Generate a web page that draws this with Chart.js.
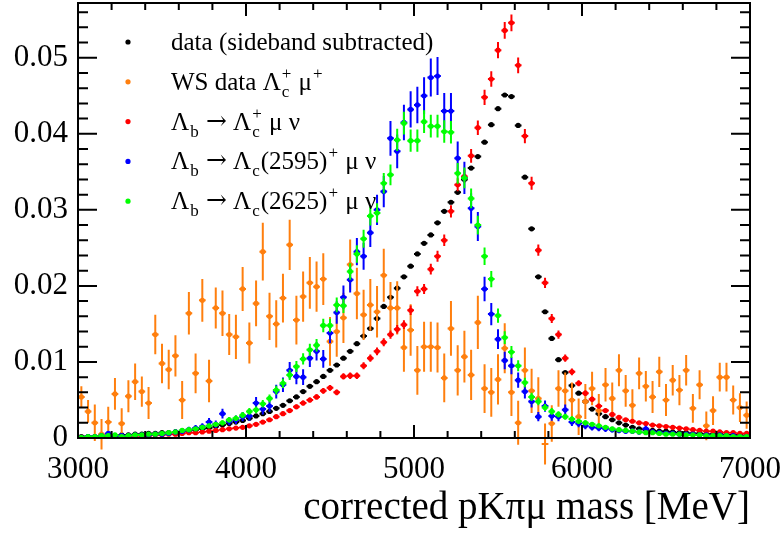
<!DOCTYPE html>
<html>
<head>
<meta charset="utf-8">
<script src="https://cdn.jsdelivr.net/npm/chart.js@4.4.1/dist/chart.umd.min.js"></script>
<style>
  html, body { margin: 0; padding: 0; background: #fff; }
</style>
</head>
<body>
<canvas id="massChart" width="784" height="533"></canvas>
<script>
// ─── Binning ─────────────────────────────────────────────────────────────────
const massLo = 3000, massHi = 7000, binWidth = 40;
const binCenters = Array.from({ length: (massHi - massLo) / binWidth }, (_, i) => massLo + binWidth * (i + 0.5));

const xTicks = [3000, 4000, 5000, 6000, 7000];
const yTicks = [0, 0.01, 0.02, 0.03, 0.04, 0.05];
const yMax = 0.0572;

// ─── Normalised distributions (one value per 40 MeV bin) ─────────────────────
const sidebandData = [
  0.0002,0.0002,0.0002,0.0003,0.0003,0.0003,0.0004,0.0004,0.0005,0.0005,
  0.0006,0.0006,0.0007,0.0007,0.0008,0.0009,0.0010,0.0011,0.0012,0.0013,
  0.0015,0.0017,0.0019,0.0021,0.0023,0.0026,0.0029,0.0032,
  0.0035,0.0039,0.0043,0.0049,0.0054,0.0061,0.0068,0.0074,0.0081,0.0089,0.0096,0.0105,0.0114,0.0124,0.0134,0.0144,0.0157,0.0173,0.0185,0.0197,0.0212,0.0226,
  0.0242,0.0256,0.0267,0.0283,0.0298,0.0310,0.0323,0.0340,0.0355,0.0370,0.0389,0.0412,0.0433,0.0451,0.0449,0.0411,0.0343,0.0275,
  0.0212,0.0166,0.0131,0.0103,0.0086,0.0069,0.0059,0.0048,0.0038,0.0032,0.0028,0.0024,0.0020,
  0.0017,0.0014,0.0012,0.0011,0.0010,0.0009,0.0009,0.0008,0.0007,0.0007,0.0006,0.0006,0.0005,0.0005,0.0005,0.0004,0.0004,0.0004,0.0003
];

const wsData = [
  0.0054,0.0035,0.0020,0.0005,0.0021,0.0058,0.0019,0.0055,0.0074,0.0061,0.0046,0.0136,0.0098,0.0090,0.0108,0.0050,0.0164,0.0085,0.0181,0.0075,0.0171,0.0164,0.0136,0.0133,0.0196,0.0125,
  0.0177,0.0245,0.0160,0.0150,0.0184,0.0254,0.0155,0.0186,0.0204,0.0199,0.0209,0.0127,0.0140,0.0158,0.0228,0.0190,0.0162,0.0175,0.0166,0.0214,0.0171,0.0171,0.0119,
  0.0142,0.0089,0.0120,0.0120,0.0119,0.0079,0.0144,0.0089,0.0107,0.0083,0.0152,0.0065,0.0060,0.0077,0.0118,0.0060,0.0020,0.0089,0.0062,0.0052,
  -0.0008,0.0019,0.0065,0.0062,0.0050,0.0028,0.0048,0.0065,0.0036,0.0070,0.0052,0.0089,0.0062,0.0043,0.0085,0.0068,0.0054,0.0087,0.0050,0.0076,0.0063,0.0089,0.0039,0.0070,0.0016,0.0036,0.0080,0.0080,0.0050,0.0040,0.0030
];
const wsErr = [
  0.0014,0.0015,0.0024,0.0020,0.0020,0.0021,0.0020,0.0021,0.0024,0.0020,0.0021,0.0026,0.0026,0.0026,0.0027,0.0025,0.0028,0.0026,0.0028,0.0028,0.0027,0.0030,0.0027,0.0029,0.0029,0.0027,
  0.0030,0.0038,0.0031,0.0031,0.0032,0.0033,0.0032,0.0033,0.0034,0.0033,0.0034,0.0032,0.0033,0.0033,0.0033,0.0034,0.0033,0.0034,0.0034,0.0035,0.0034,0.0035,0.0032,
  0.0034,0.0032,0.0033,0.0033,0.0033,0.0032,0.0036,0.0033,0.0034,0.0033,0.0035,0.0032,0.0032,0.0033,0.0033,0.0031,0.0029,0.0030,0.0029,0.0028,
  0.0027,0.0024,0.0024,0.0024,0.0023,0.0024,0.0023,0.0022,0.0022,0.0022,0.0021,0.0021,0.0021,0.0021,0.0021,0.0020,0.0021,0.0020,0.0021,0.0020,0.0020,0.0020,0.0019,0.0019,0.0019,0.0019,0.0019,0.0019,0.0019,0.0019,0.0018
];

const lcMuNu = [
  0.0001,0.0001,0.0001,0.0001,0.0002,0.0002,0.0002,0.0002,0.0003,0.0003,0.0003,0.0004,0.0004,0.0005,0.0005,0.0006,0.0007,0.0007,0.0008,0.0009,
  0.0010,0.0011,0.0012,0.0013,0.0014,0.0016,0.0018,0.0021,0.0024,0.0028,
  0.0032,0.0036,0.0041,0.0046,0.0050,0.0054,0.0062,0.0066,0.0060,
  0.0081,0.0082,0.0082,0.0095,0.0105,0.0114,0.0126,0.0136,0.0143,
  0.0149,0.0168,0.0193,0.0196,0.0222,0.0239,0.0260,0.0298,0.0333,0.0344,0.0371,0.0408,
  0.0448,0.0472,0.0510,0.0536,0.0546,0.0490,0.0397,0.0335,0.0247,0.0204,0.0157,0.0136,
  0.0105,0.0087,0.0072,0.0059,0.0051,0.0042,0.0036,0.0031,0.0027,0.0024,0.0022,0.0020,0.0019,0.0017,
  0.0016,0.0015,0.0014,0.0013,0.0012,0.0011,0.0010,0.0009,0.0009,0.0008,0.0007,0.0007,0.0006,0.0006
];

const lc2595MuNu = [
  0.0001,0.0002,0.0002,0.0003,0.0006,0.0003,0.0003,0.0003,0.0004,0.0004,0.0004,0.0005,0.0005,0.0006,0.0008,0.0009,0.0011,0.0013,0.0015,0.0021,
  0.0018,0.0032,0.0022,0.0024,0.0028,0.0029,0.0046,0.0038,0.0042,0.0061,0.0070,0.0089,
  0.0081,0.0080,0.0105,0.0114,0.0104,0.0138,0.0165,0.0185,0.0208,0.0245,0.0239,0.0270,0.0300,0.0324,0.0394,0.0377,
  0.0415,0.0432,0.0438,0.0450,0.0474,0.0476,0.0430,0.0430,0.0368,0.0342,0.0302,0.0278,
  0.0196,0.0163,0.0130,0.0102,0.0095,0.0076,0.0061,0.0048,0.0028,0.0042,0.0029,0.0028,0.0037,
  0.0021,0.0019,0.0016,0.0014,0.0013,0.0012,0.0011,0.0010,0.0009,0.0009,0.0008,0.0012,0.0008,0.0007,
  0.0006,0.0006,0.0005,0.0005,0.0005,0.0004,0.0004,0.0003,0.0004,0.0003,0.0003,0.0002,0.0002
];

const lc2625MuNu = [
  0.0001,0.0002,0.0002,0.0003,0.0003,0.0004,0.0002,0.0003,0.0004,0.0004,0.0005,0.0005,0.0006,0.0007,0.0008,0.0010,0.0011,0.0012,0.0014,0.0016,0.0018,0.0020,0.0024,0.0026,0.0030,
  0.0035,0.0037,0.0045,0.0052,0.0063,0.0072,0.0083,0.0094,0.0104,0.0116,0.0122,0.0148,0.0148,0.0175,0.0174,0.0219,0.0242,0.0262,0.0292,0.0296,0.0335,0.0346,0.0392,
  0.0414,0.0391,0.0391,0.0416,0.0410,0.0410,0.0403,0.0402,0.0348,0.0342,0.0315,0.0280,
  0.0239,0.0209,0.0161,0.0132,0.0113,0.0095,0.0073,0.0054,0.0048,0.0040,0.0035,0.0031,0.0028,
  0.0025,0.0022,0.0020,0.0018,0.0016,0.0014,0.0012,0.0011,0.0010,0.0009,0.0008,0.0007,0.0007,0.0006,
  0.0005,0.0005,0.0005,0.0004,0.0004,0.0004,0.0003,0.0003,0.0003,0.0003,0.0002,0.0002,0.0002
];

// simulated samples: statistical error at the peak bin, scaled as sqrt(N) elsewhere
const mcPeakErr = { lc: 0.0011, lc2595: 0.0025, lc2625: 0.0015 };

// ─── Legend rows (plain strings, {arrow}, or {sub, sup} pieces) ──────────────
const ARROW = { arrow: '\u2192' };
const legendRows = [
  { color: '#000000', runs: ['data (sideband subtracted)'] },
  { color: '#ff7f0e', runs: ['WS data \u039B', { sub: 'c', sup: '+' }, ' \u03BC', { sup: '+' }] },
  { color: '#ff0000', runs: ['\u039B', { sub: 'b' }, ' ', ARROW, ' \u039B', { sub: 'c', sup: '+' }, ' \u03BC \u03BD'] },
  { color: '#0000ff', runs: ['\u039B', { sub: 'b' }, ' ', ARROW, ' \u039B', { sub: 'c' }, '(2595)', { sup: '+' }, ' \u03BC \u03BD'] },
  { color: '#00ff00', runs: ['\u039B', { sub: 'b' }, ' ', ARROW, ' \u039B', { sub: 'c' }, '(2625)', { sup: '+' }, ' \u03BC \u03BD'] }
];

const SERIF = '"Liberation Serif", "DejaVu Serif", serif';

function withErrors(vals, errs) {
  return vals.map((v, i) => ({ x: binCenters[i], y: v, err: errs ? errs[i] : 0 }));
}
function mcErrors(vals, peakErr) {
  const peak = Math.max(...vals);
  return vals.map(v => peakErr * Math.sqrt(Math.max(v, 0) / peak));
}

// ─── Error bars, frame, ticks and legend in ROOT style ───────────────────────
const rootStyle = {
  id: 'rootStyle',
  beforeDatasetDraw(chart, args) {
    const ds = chart.data.datasets[args.index];
    const { ctx, chartArea: a, scales: { x, y } } = chart;
    ctx.save();
    if (ds.clip !== false) {
      ctx.beginPath();
      ctx.rect(a.left, a.top, a.right - a.left, a.bottom - a.top);
      ctx.clip();
    }
    ctx.strokeStyle = ds.backgroundColor;
    ctx.lineWidth = 2;
    ctx.beginPath();
    for (const p of ds.data) {
      const px = x.getPixelForValue(p.x), py = y.getPixelForValue(p.y);
      const hx = x.getPixelForValue(p.x + binWidth / 2) - px;
      ctx.moveTo(px - hx, py); ctx.lineTo(px + hx, py);
      if (p.err) {
        ctx.moveTo(px, y.getPixelForValue(p.y - p.err));
        ctx.lineTo(px, y.getPixelForValue(p.y + p.err));
      }
    }
    ctx.stroke();
    ctx.restore();
  },
  afterDraw(chart) {
    const { ctx, chartArea: a, scales: { x, y } } = chart;
    ctx.save();
    ctx.strokeStyle = '#000';
    ctx.lineWidth = 2;
    ctx.strokeRect(a.left, a.top, a.right - a.left, a.bottom - a.top);

    ctx.beginPath();
    for (let m = massLo; m <= massHi; m += 200) {
      const px = x.getPixelForValue(m);
      const len = xTicks.includes(m) ? 13 : 7;
      ctx.moveTo(px, a.bottom); ctx.lineTo(px, a.bottom - len);
      ctx.moveTo(px, a.top);    ctx.lineTo(px, a.top + len);
    }
    for (let k = 0; k * 0.002 <= yMax; k++) {
      const py = y.getPixelForValue(k * 0.002);
      const len = k % 5 === 0 ? 19 : 10;
      ctx.moveTo(a.left, py);  ctx.lineTo(a.left + len, py);
      ctx.moveTo(a.right, py); ctx.lineTo(a.right - len, py);
    }
    ctx.stroke();

    // legend
    const lx = 128, tx = 171, top = 42, gap = 39.8;
    ctx.textBaseline = 'alphabetic';
    ctx.textAlign = 'left';
    legendRows.forEach((row, i) => {
      const ry = top + i * gap;
      ctx.fillStyle = row.color;
      ctx.beginPath();
      ctx.arc(lx, ry, 2.6, 0, Math.PI * 2);
      ctx.fill();
      ctx.fillStyle = '#000';
      let cx = tx;
      const base = ry + 8;
      for (const r of row.runs) {
        if (typeof r === 'string') {
          ctx.font = `25px ${SERIF}`;
          ctx.fillText(r, cx, base);
          cx += ctx.measureText(r).width;
        } else if (r.arrow) {
          ctx.font = '25px "DejaVu Serif", serif';
          ctx.fillText(r.arrow, cx, base - 1);
          cx += ctx.measureText(r.arrow).width;
        } else {
          ctx.font = `17px ${SERIF}`;
          let w = 0;
          if (r.sub) { ctx.fillText(r.sub, cx + 1, base + 7); w = Math.max(w, ctx.measureText(r.sub).width); }
          if (r.sup) { ctx.fillText(r.sup, cx + 1, base - 11); w = Math.max(w, ctx.measureText(r.sup).width); }
          cx += w + 2;
        }
      }
    });
    ctx.restore();
  }
};

const ctx = document.getElementById('massChart').getContext('2d');
new Chart(ctx, {
  type: 'scatter',
  data: {
    datasets: [
      { label: 'data (sideband subtracted)', data: withErrors(sidebandData), backgroundColor: '#000000', order: 5 },
      { label: 'WS data', data: withErrors(wsData, wsErr), backgroundColor: '#ff7f0e', order: 4, clip: false },
      { label: 'Lb -> Lc mu nu', data: withErrors(lcMuNu, mcErrors(lcMuNu, mcPeakErr.lc)), backgroundColor: '#ff0000', order: 3 },
      { label: 'Lb -> Lc(2595) mu nu', data: withErrors(lc2595MuNu, mcErrors(lc2595MuNu, mcPeakErr.lc2595)), backgroundColor: '#0000ff', order: 2 },
      { label: 'Lb -> Lc(2625) mu nu', data: withErrors(lc2625MuNu, mcErrors(lc2625MuNu, mcPeakErr.lc2625)), backgroundColor: '#00ff00', order: 1 }
    ]
  },
  options: {
    responsive: false,
    animation: false,
    devicePixelRatio: 1,
    layout: { padding: { top: 3, right: 34, bottom: 0, left: 0 } },
    elements: { point: { radius: 2.6, borderWidth: 0, hoverRadius: 2.6 } },
    plugins: { legend: { display: false }, tooltip: { enabled: false } },
    scales: {
      x: {
        type: 'linear', min: massLo, max: massHi,
        afterBuildTicks: s => { s.ticks = xTicks.map(v => ({ value: v })); },
        afterFit: s => { s.height = 95; s.paddingLeft = 0; s.paddingRight = 0; },
        grid: { display: false, drawTicks: false },
        border: { display: false },
        ticks: { autoSkip: false, maxRotation: 0, padding: 13, color: '#000', font: { family: SERIF, size: 31 }, callback: v => String(v) },
        title: { display: true, text: 'corrected pK\u03C0\u03BC mass [MeV]', align: 'end', color: '#000', font: { family: SERIF, size: 39 }, padding: { top: 0, bottom: 1 } }
      },
      y: {
        type: 'linear', min: 0, max: yMax,
        afterBuildTicks: s => { s.ticks = yTicks.map(v => ({ value: v })); },
        afterFit: s => { s.width = 78; s.paddingTop = 0; s.paddingBottom = 0; },
        grid: { display: false, drawTicks: false },
        border: { display: false },
        ticks: { autoSkip: false, padding: 10, color: '#000', font: { family: SERIF, size: 31 }, callback: v => String(v) }
      }
    }
  },
  plugins: [rootStyle]
});
</script>
</body>
</html>
